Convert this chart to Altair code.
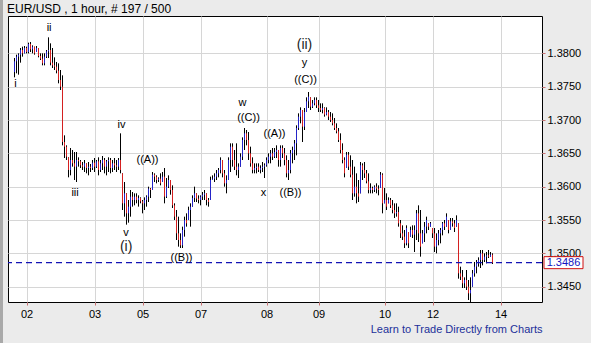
import altair as alt
import pandas as pd

# ---- data (prices in pips, i.e. price * 10000) ----
high = [
    13793, 13798, 13800, 13808, 13810, 13811, 13810, 13816, 13817, 13812,
    13810, 13811, 13808, 13800, 13800, 13800, 13805, 13824, 13815, 13808,
    13794, 13787, 13785, 13775, 13767, 13677, 13662, 13644, 13658, 13655,
    13652, 13652, 13644, 13640, 13637, 13640, 13635, 13637, 13634, 13640,
    13643, 13640, 13644, 13640, 13646, 13643, 13640, 13644, 13643, 13640,
    13643, 13640, 13643, 13680, 13620, 13607, 13590, 13580, 13595, 13592,
    13590, 13590, 13587, 13584, 13580, 13584, 13587, 13600, 13598, 13622,
    13620, 13617, 13614, 13620, 13622, 13628, 13613, 13617, 13610, 13602,
    13575, 13565, 13555, 13530, 13540, 13555, 13560, 13570, 13575, 13587,
    13600, 13590, 13587, 13587, 13592, 13595, 13590, 13583, 13615, 13617,
    13620, 13625, 13628, 13644, 13640, 13625, 13617, 13644, 13665, 13665,
    13655, 13665, 13635, 13650, 13674, 13688, 13685, 13682, 13660, 13644,
    13635, 13635, 13635, 13632, 13637, 13635, 13644, 13650, 13655, 13658,
    13658, 13662, 13655, 13662, 13662, 13658, 13647, 13640, 13655, 13660,
    13670, 13692, 13710, 13719, 13715, 13718, 13734, 13742, 13734, 13730,
    13734, 13734, 13730, 13725, 13725, 13719, 13719, 13715, 13712, 13710,
    13703, 13695, 13688, 13680, 13665, 13644, 13652, 13652, 13647, 13640,
    13630, 13620, 13610, 13637, 13635, 13637, 13625, 13620, 13605, 13600,
    13602, 13605, 13602, 13622, 13620, 13598, 13590, 13584, 13583, 13580,
    13575, 13575, 13570, 13550, 13542, 13535, 13542, 13532, 13540, 13542,
    13542, 13565, 13572, 13565, 13535, 13547, 13555, 13545, 13547, 13538,
    13538, 13530, 13535, 13538, 13547, 13550, 13560, 13550, 13553, 13553,
    13550, 13557, 13545, 13480, 13475, 13464, 13475, 13460, 13464, 13475,
    13487, 13490, 13494, 13505, 13505, 13500, 13502, 13505, 13502, 13500,
]
low = [
    13764, 13770, 13768, 13786, 13795, 13800, 13800, 13800, 13802, 13800,
    13798, 13802, 13794, 13790, 13782, 13782, 13793, 13793, 13782, 13778,
    13775, 13770, 13755, 13745, 13662, 13643, 13640, 13614, 13617, 13630,
    13610, 13607, 13630, 13628, 13625, 13622, 13620, 13617, 13622, 13625,
    13622, 13628, 13617, 13622, 13625, 13620, 13617, 13622, 13620, 13622,
    13625, 13622, 13625, 13620, 13565, 13555, 13543, 13546, 13555, 13570,
    13572, 13575, 13570, 13575, 13560, 13565, 13570, 13577, 13583, 13595,
    13607, 13605, 13607, 13602, 13607, 13575, 13583, 13598, 13588, 13568,
    13550, 13520, 13510, 13508, 13508, 13525, 13540, 13550, 13540, 13570,
    13577, 13577, 13575, 13572, 13580, 13580, 13572, 13570, 13580, 13610,
    13607, 13610, 13614, 13620, 13614, 13600, 13590, 13610, 13622, 13630,
    13625, 13617, 13613, 13630, 13640, 13655, 13662, 13640, 13630, 13620,
    13620, 13620, 13622, 13620, 13622, 13613, 13630, 13635, 13635, 13640,
    13643, 13643, 13630, 13630, 13643, 13632, 13614, 13610, 13620, 13635,
    13640, 13647, 13685, 13695, 13667, 13685, 13712, 13718, 13715, 13718,
    13722, 13718, 13712, 13712, 13710, 13705, 13707, 13700, 13697, 13692,
    13685, 13680, 13667, 13650, 13635, 13614, 13628, 13625, 13614, 13580,
    13585, 13575, 13577, 13590, 13610, 13613, 13605, 13590, 13590, 13590,
    13592, 13590, 13587, 13598, 13560, 13575, 13565, 13575, 13568, 13560,
    13553, 13555, 13540, 13523, 13520, 13508, 13512, 13508, 13525, 13523,
    13502, 13520, 13517, 13495, 13515, 13517, 13530, 13535, 13540, 13523,
    13502, 13500, 13512, 13515, 13527, 13535, 13540, 13530, 13535, 13540,
    13532, 13540, 13462, 13460, 13448, 13448, 13445, 13430, 13427, 13450,
    13465, 13470, 13480, 13478, 13482, 13487, 13485, 13493, 13495, 13484,
]
close = [
    13788, 13795, 13798, 13805, 13800, 13808, 13802, 13814, 13806, 13810,
    13800, 13808, 13796, 13792, 13785, 13795, 13803, 13805, 13786, 13782,
    13780, 13774, 13760, 13750, 13667, 13660, 13645, 13625, 13640, 13635,
    13630, 13640, 13638, 13632, 13630, 13635, 13628, 13630, 13628, 13636,
    13630, 13638, 13625, 13635, 13640, 13630, 13638, 13640, 13628, 13635,
    13632, 13630, 13640, 13625, 13575, 13590, 13560, 13570, 13585, 13580,
    13585, 13580, 13583, 13578, 13575, 13580, 13585, 13597, 13595, 13618,
    13615, 13610, 13612, 13605, 13615, 13585, 13600, 13610, 13595, 13572,
    13555, 13530, 13520, 13512, 13535, 13550, 13545, 13565, 13570, 13583,
    13590, 13582, 13580, 13585, 13588, 13590, 13580, 13577, 13610, 13612,
    13615, 13620, 13625, 13640, 13620, 13605, 13610, 13640, 13660, 13640,
    13630, 13625, 13630, 13645, 13670, 13680, 13670, 13650, 13635, 13625,
    13628, 13630, 13625, 13628, 13630, 13632, 13640, 13645, 13650, 13645,
    13652, 13655, 13640, 13658, 13650, 13640, 13620, 13625, 13650, 13655,
    13665, 13688, 13705, 13715, 13690, 13712, 13728, 13735, 13720, 13725,
    13730, 13722, 13718, 13715, 13718, 13708, 13712, 13705, 13700, 13695,
    13688, 13683, 13670, 13655, 13640, 13620, 13648, 13630, 13618, 13590,
    13600, 13590, 13585, 13632, 13625, 13620, 13608, 13595, 13598, 13595,
    13600, 13597, 13595, 13618, 13575, 13580, 13570, 13580, 13572, 13565,
    13560, 13562, 13545, 13530, 13525, 13515, 13538, 13515, 13535, 13528,
    13535, 13560, 13530, 13510, 13530, 13540, 13550, 13540, 13545, 13530,
    13510, 13520, 13530, 13535, 13545, 13540, 13555, 13535, 13548, 13545,
    13538, 13550, 13470, 13465, 13455, 13460, 13450, 13440, 13445, 13470,
    13480, 13485, 13490, 13500, 13490, 13495, 13497, 13495, 13498, 13486,
]
first_open = 13772

day_ticks = [6, 40, 64, 93, 126, 152, 185, 209, 243]
day_labels = ["02", "03", "05", "07", "08", "09", "10", "12", "14"]

wave_text = ["i", "ii", "iii", "iv", "v", "(i)", "((A))", "((B))", "w", "((C))",
             "x", "((A))", "((B))", "(ii)", "y", "((C))"]
wave_bar = [0.5, 17.3, 30.3, 53.5, 55.8, 55.8, 66.5, 83.5, 114, 117,
            124.5, 130, 138, 145, 145, 145.5]
wave_pips = [13754, 13838, 13590, 13692, 13530, 13509, 13640, 13493, 13725, 13703,
             13591, 13679, 13591, 13812, 13785, 13760]
big_labels = ["(i)", "(ii)"]

last_price = 1.3486
y_ticks = [1.345, 1.350, 1.355, 1.360, 1.365, 1.370, 1.375, 1.380]
title_text = "EUR/USD , 1 hour, # 197 / 500"
footer_text = "Learn to Trade Directly from Charts"

# ---- tables ----
n = len(close)
opens = [first_open] + close[:-1]
rows = []
for i in range(n):
    o = min(max(opens[i], low[i]), high[i])
    rows.append({
        "idx": i,
        "high": high[i] / 10000,
        "low": low[i] / 10000,
        "open": o / 10000,
        "close": close[i] / 10000,
        "dir": "down" if close[i] < o else "up",
    })
bars = pd.DataFrame(rows)
waves = pd.DataFrame({
    "idx": wave_bar,
    "price": [p / 10000 for p in wave_pips],
    "label": wave_text,
    "big": [t in big_labels for t in wave_text],
})
last_df = pd.DataFrame({"p": [last_price], "txt": ["%.4f" % last_price],
                        "title": [title_text]})

FONT = "Liberation Sans"
label_expr = "[" + ",".join("'%s'" % s for s in day_labels) + "][indexof([" + \
    ",".join(str(v) for v in day_ticks) + "], datum.value)]"

x_scale = alt.Scale(domain=[-3.25, 263.75], nice=False, zero=False)
y_scale = alt.Scale(domain=[1.3427, 1.3856], nice=False, zero=False)
x_axis = alt.Axis(values=day_ticks, labelExpr=label_expr, title=footer_text,
                  titleAnchor="end", titleColor="#22309a", titleFontSize=11,
                  titleFontWeight="normal", titleFont=FONT, titlePadding=4,
                  grid=True, gridColor="#d6d6d6", tickColor="#c87070", tickSize=3,
                  labelFontSize=11, labelFont=FONT, labelColor="black",
                  labelPadding=3, domain=False)
y_axis = alt.Axis(values=y_ticks, format=".4f", orient="right", title=None,
                  grid=True, gridColor="#d6d6d6", tickColor="#c87070", tickSize=3,
                  labelFontSize=11, labelFont=FONT, labelColor="black",
                  labelPadding=2, domain=False)


def X(f):
    return alt.X(f, type="quantitative", scale=x_scale, axis=x_axis)


def Y(f):
    return alt.Y(f, type="quantitative", scale=y_scale, axis=y_axis)


wicks = alt.Chart(bars).mark_rule(color="black", strokeWidth=1).encode(
    x=X("idx"), y=Y("low"), y2="high")
bodies = alt.Chart(bars).mark_rule(strokeWidth=1).encode(
    x=X("idx"), y=Y("open"), y2="close",
    color=alt.Color("dir:N", scale=alt.Scale(domain=["up", "down"],
                                             range=["#2424c8", "#d42020"]),
                    legend=None))

last_line = alt.Chart(last_df).mark_rule(color="#1414b4", strokeDash=[6, 4],
                                         strokeWidth=1.2).encode(y=Y("p"))

box = alt.Chart(last_df).mark_rect(fill="white", stroke="#d01010", strokeWidth=1,
                                   yOffset=-6, y2Offset=6).encode(
    x=alt.value(536), x2=alt.value(575), y=Y("p"), y2="p:Q")
box_text = alt.Chart(last_df).mark_text(color="#1414c0", fontSize=11, font=FONT,
                                        align="center", baseline="middle").encode(
    x=alt.value(555.5), y=Y("p"), text="txt:N")

small_w = alt.Chart(waves).transform_filter("!datum.big").mark_text(
    fontSize=11, font=FONT, fontWeight="normal", color="black",
    align="center", baseline="middle").encode(
    x=X("idx"), y=Y("price"), text="label:N")
big_w = alt.Chart(waves).transform_filter("datum.big").mark_text(
    fontSize=14, font=FONT, fontWeight="normal", color="#222222",
    align="center", baseline="middle").encode(
    x=X("idx"), y=Y("price"), text="label:N")

title_mark = alt.Chart(last_df).mark_text(
    fontSize=12, font=FONT, color="black", align="left",
    baseline="alphabetic").encode(
    x=alt.value(-1), y=alt.value(-3), text="title:N")

edge = alt.Chart(last_df).mark_rect(color="#a9a9a9").encode(
    x=alt.value(-8), x2=alt.value(-5), y=alt.value(-16), y2=alt.value(327))

chart = alt.layer(
    edge, wicks, bodies, last_line, small_w, big_w, box, box_text, title_mark
).properties(
    width=534, height=286,
    padding={"left": 8, "top": 16, "right": 49, "bottom": 41},
    autosize=alt.AutoSizeParams(type="none"),
).configure(background="#ebebeb", font=FONT).configure_view(
    fill="white", stroke="black", strokeWidth=1)

chart.save("out.html", embed_options={"renderer": "svg", "actions": False})
